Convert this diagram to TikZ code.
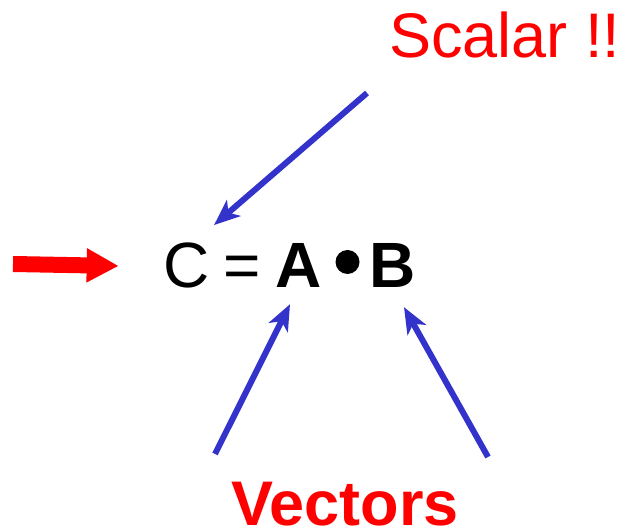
\documentclass[tikz,border=0pt]{standalone}
\usepackage{fontspec}
\setmainfont{Liberation Sans}
\usepackage{xcolor}
\usepackage{tikz}
\usetikzlibrary{arrows.meta,calc}
\definecolor{vecblue}{HTML}{3333CC}
\definecolor{labelred}{HTML}{FF0000}

\tikzset{
  eqtext/.style={inner sep=0pt,anchor=base,font=\fontsize{64}{72}\selectfont},
  ptr/.style={vecblue,line width=6pt,-{Stealth[length=26pt,width=21pt,inset=7pt]}},
  bigarrow/.style={labelred,line width=16pt,-{Triangle[length=32pt,width=32pt]}}
}

\begin{document}
\begin{tikzpicture}[x=1pt,y=1pt]
  \useasboundingbox (0,0) rectangle (623,532);
  % equation
  \node[eqtext] (C) at (187,244) {C};
  \node[eqtext] (eq) at (242,244) {=};
  \node[eqtext,font=\fontsize{64}{72}\selectfont\bfseries] (A) at (299,244) {A};
  \node[circle,fill=black,inner sep=0pt,minimum size=24pt] (dot) at (347.5,270) {};
  \node[eqtext,font=\fontsize{64}{72}\selectfont\bfseries] (B) at (393,244) {B};
  % labels
  \node[inner sep=0pt,anchor=base west,labelred,font=\fontsize{63}{72}\selectfont] (scalar) at (389,474) {Scalar !!};
  \node[inner sep=0pt,anchor=base west,labelred,font=\fontsize{63}{72}\selectfont\bfseries] (vectors) at (231,6) {Vectors};
  % arrows
  \coordinate (sTail) at (367,439);
  \coordinate (aTail) at (215,78);
  \coordinate (bTail) at (488,75);
  \coordinate (rTail) at (13,268);
  \draw[ptr] (sTail) -- ([shift={(27,18)}]C.north);
  \draw[ptr] (aTail) -- ([shift={(-9,-16)}]A.south);
  \draw[ptr] (bTail) -- ([shift={(11,-19)}]B.south);
  \draw[bigarrow] (rTail) -- ([xshift=-45pt]C.west);
\end{tikzpicture}
\end{document}
